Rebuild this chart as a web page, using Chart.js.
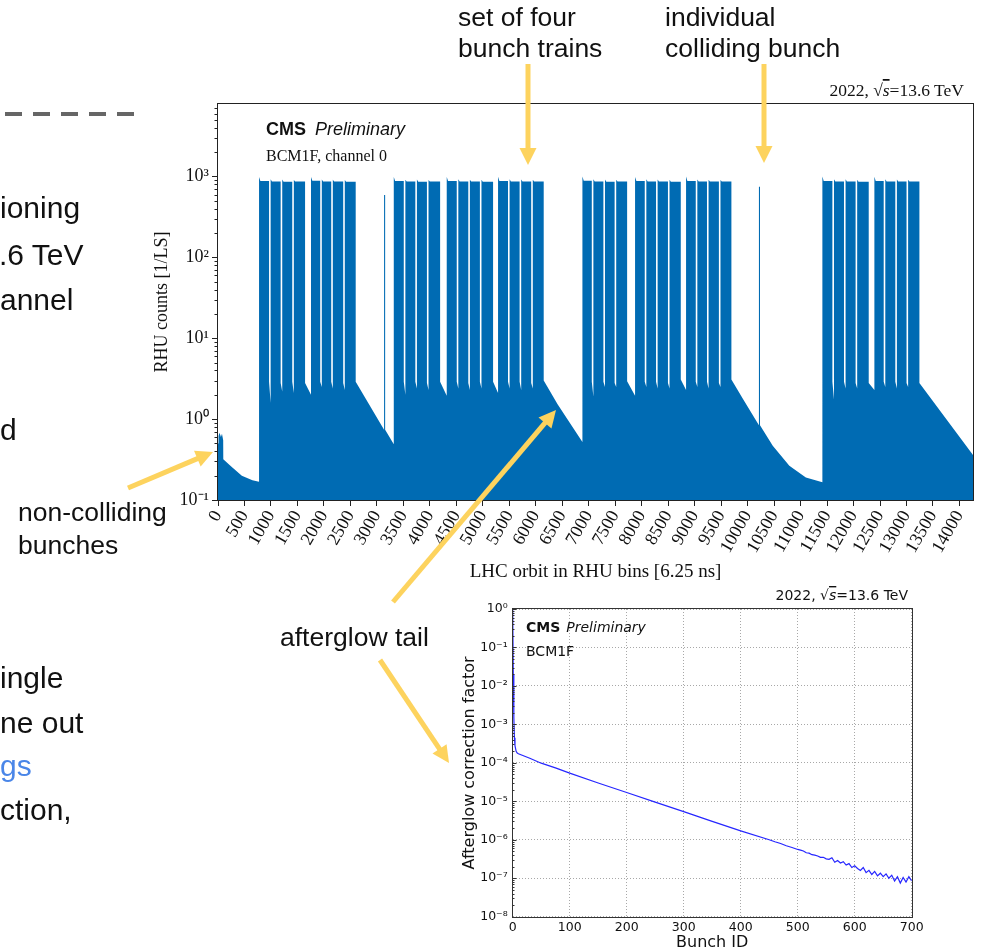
<!DOCTYPE html>
<html>
<head>
<meta charset="utf-8">
<script src="https://cdn.jsdelivr.net/npm/chart.js@4.4.1/dist/chart.umd.min.js"></script>
<style>
  html, body { margin: 0; padding: 0; background: #fff; }
  #page { position: relative; width: 986px; height: 951px; overflow: hidden; }
  canvas { position: absolute; }
  #overlay { position: absolute; left: 0; top: 0; pointer-events: none; }
  .sans { font-family: "Liberation Sans", Arial, sans-serif; fill: #111; }
  .serif { font-family: "Liberation Serif", "DejaVu Serif", serif; fill: #111; }
  .dv { font-family: "DejaVu Sans", sans-serif; fill: #111; }
</style>
</head>
<body>
<div id="page">
  <canvas id="rhuChart" width="846" height="530" style="left:140px;top:70px"></canvas>
  <canvas id="afterglowChart" width="490" height="371" style="left:440px;top:580px"></canvas>
  <svg id="overlay" width="986" height="951"></svg>
</div>
<script>
// ---- top plot: RHU histogram per orbit bin (envelope) ----
const trainStarts = [775, 994, 1213, 1432, 1756, 1960, 2168, 2394,
  3319, 3538, 3756, 3975, 4319, 4538, 4756, 4975, 5288, 5506, 5725, 5944,
  6881, 7088, 7307, 7519, 7875, 8088, 8301, 8526, 8838, 9051, 9263, 9488,
  11412, 11631, 11850, 12069, 12394, 12600, 12819, 13031];
const trainEnds = [964, 1183, 1402, 1644, 1930, 2138, 2364, 2600,
  3508, 3726, 3945, 4194, 4508, 4726, 4945, 5194, 5476, 5695, 5914, 6150,
  7058, 7277, 7489, 7725, 8058, 8271, 8496, 8738, 9021, 9233, 9458, 9694,
  11601, 11820, 12039, 12287, 12570, 12789, 13001, 13244];
const trainPeak = [990, 930, 920, 910, 985, 920, 915, 910, 990, 915, 920, 910,
  985, 925, 915, 915, 995, 930, 920, 915, 1000, 925, 920, 915, 990, 925, 920, 915,
  1005, 920, 915, 910, 1000, 930, 925, 915, 995, 925, 920, 915];
const trainTail = [880, 870, 865, 870, 885, 870, 870, 865, 880, 870, 865, 870,
  880, 870, 870, 865, 880, 870, 870, 870, 885, 870, 865, 870, 880, 870, 870, 865,
  880, 870, 870, 870, 880, 870, 870, 865, 880, 870, 870, 870];
const levelBefore = [0.168, 1.6, 2.2, 2.1, 2.0, 2.5, 2.4, 2.3, 0.49, 2.0, 2.4, 2.3,
  1.95, 2.4, 2.3, 2.4, 2.1, 2.4, 2.3, 2.4, 0.52, 1.9, 2.5, 2.5, 1.95, 2.5, 2.4, 2.4,
  2.3, 2.5, 2.4, 2.5, 0.166, 1.75, 2.4, 2.4, 2.3, 2.5, 2.4, 2.5];
const levelAfter = [2.9, 2.8, 2.9, 2.8, 2.9, 2.9, 2.8, 2.9, 2.9, 2.9, 2.8, 2.9,
  2.9, 2.8, 2.9, 2.9, 2.9, 2.9, 2.8, 3.0, 2.9, 2.9, 2.8, 2.95, 2.9, 2.9, 2.8, 3.1,
  2.9, 2.9, 2.8, 3.1, 2.9, 2.9, 2.8, 2.8, 2.9, 2.9, 2.8, 2.8];
// afterglow / non-colliding points outside the trains
const glowBins = [0, 10, 30, 55, 75, 98, 100, 250, 450, 650, 6412, 9913, 10475, 10788, 11100, 14256];
const glowCounts = [0.5, 0.62, 0.68, 0.6, 0.66, 0.55, 0.32, 0.26, 0.2, 0.175, 1.53, 1.77, 0.47, 0.265, 0.19, 0.36];
// isolated colliding bunches
const singleBins = [3136, 10214];
const singleWidth = [20, 20];
const singlePeak = [590, 750];
const singleBase = [0.74, 0.84];

const orbitTicks = [0, 500, 1000, 1500, 2000, 2500, 3000, 3500, 4000, 4500, 5000,
  5500, 6000, 6500, 7000, 7500, 8000, 8500, 9000, 9500, 10000, 10500, 11000,
  11500, 12000, 12500, 13000, 13500, 14000];
const yMajors = [0.1, 1, 10, 100, 1000];
const yMajorLabels = ['10\u207B\u00B9', '10\u2070', '10\u00B9', '10\u00B2', '10\u00B3'];

// ---- bottom plot: afterglow correction factor per bunch ----
const bunchIds = [0, 1, 2, 3, 4, 6, 8, 10, 30, 50, 75, 100, 150, 200, 250, 300, 350, 400,
  450, 460, 470, 480, 490, 500, 505, 510, 515, 520, 525, 530, 535, 540, 545, 550,
  555, 560, 565, 570, 575, 580, 585, 590, 595, 600, 605, 610, 615, 620, 625, 630,
  635, 640, 645, 650, 655, 660, 665, 670, 675, 680, 685, 690, 695, 700];
const afterglowFactor = [1.0, 0.02, 1.5e-3, 4.5e-4, 2.8e-4, 2.0e-4, 1.8e-4, 1.72e-4,
  1.32e-4, 9.8e-5, 7.4e-5, 5.4e-5, 3.0e-5, 1.7e-5, 9.5e-6, 5.4e-6, 3.0e-6, 1.7e-6,
  1.0e-6, 8.9e-7, 8.0e-7, 7.0e-7, 6.3e-7, 5.6e-7, 5.4e-7, 5.1e-7, 4.6e-7, 4.5e-7,
  4.1e-7, 4.0e-7, 3.8e-7, 3.5e-7, 3.5e-7, 3.2e-7, 3.1e-7, 3.4e-7, 2.6e-7, 2.9e-7,
  2.5e-7, 2.7e-7, 2.2e-7, 2.4e-7, 1.9e-7, 2.1e-7, 1.8e-7, 1.6e-7, 1.9e-7, 1.4e-7,
  1.6e-7, 1.25e-7, 1.5e-7, 1.15e-7, 1.35e-7, 1.1e-7, 1.3e-7, 1.0e-7, 1.2e-7, 8.5e-8,
  1.1e-7, 7.5e-8, 1.05e-7, 8.0e-8, 1.1e-7, 8.5e-8];
const bunchTicks = [0, 100, 200, 300, 400, 500, 600, 700];
const agYMajors = [1e-8, 1e-7, 1e-6, 1e-5, 1e-4, 1e-3, 1e-2, 1e-1, 1];
const agYLabels = ['10\u207B\u2078', '10\u207B\u2077', '10\u207B\u2076', '10\u207B\u2075',
  '10\u207B\u2074', '10\u207B\u00B3', '10\u207B\u00B2', '10\u207B\u00B9', '10\u2070'];

// build the envelope polygon for the histogram
const rhuPoints = [];
glowBins.forEach((b, i) => rhuPoints.push({ x: b, y: glowCounts[i] }));
trainStarts.forEach((s, i) => {
  rhuPoints.push({ x: s, y: levelBefore[i] }, { x: s, y: trainPeak[i] },
    { x: s + 25, y: trainTail[i] });
  rhuPoints.push({ x: trainEnds[i], y: trainTail[i] }, { x: trainEnds[i], y: levelAfter[i] });
});
singleBins.forEach((b, i) => {
  rhuPoints.push({ x: b, y: singleBase[i] }, { x: b, y: singlePeak[i] },
    { x: b + singleWidth[i], y: singlePeak[i] }, { x: b + singleWidth[i], y: singleBase[i] });
});
rhuPoints.sort((a, b) => a.x - b.x);

const agPoints = bunchIds.map((b, i) => ({ x: b, y: afterglowFactor[i] }));

// box round the plot area + minor ticks on the log axis (dir 1 = outward, -1 = inward)
const frameBox = {
  id: 'frameBox',
  afterDraw(chart, args, opts) {
    const { ctx, chartArea: a } = chart;
    ctx.save();
    ctx.strokeStyle = opts.color || '#000';
    ctx.lineWidth = 1;
    ctx.strokeRect(Math.round(a.left) - 0.5, Math.round(a.top) - 0.5,
      Math.round(a.right - a.left) + 1, Math.round(a.bottom - a.top) + 1);
    const ys = chart.scales.y;
    const x0 = Math.round(a.left) - 0.5;
    ctx.beginPath();
    if (opts.minorDecades) {
      opts.minorDecades.forEach(d => {
        for (let k = 2; k <= 9; k++) {
          const v = d * k;
          if (v > ys.max) return;
          const py = Math.round(ys.getPixelForValue(v)) + 0.5;
          ctx.moveTo(x0 - opts.minorLen * opts.dir, py);
          ctx.lineTo(x0, py);
        }
      });
    }
    if (opts.majorIn) {
      ys.ticks.forEach(t => {
        const py = Math.round(ys.getPixelForValue(t.value)) + 0.5;
        ctx.moveTo(x0, py);
        ctx.lineTo(x0 + opts.majorIn, py);
      });
    }
    ctx.stroke();
    ctx.restore();
  }
};

const serif = 'Liberation Serif';

new Chart(document.getElementById('rhuChart'), {
  type: 'line',
  data: {
    datasets: [{
      data: rhuPoints,
      fill: 'start',
      backgroundColor: '#006bb3',
      borderColor: 'rgba(0,0,0,0)',
      borderWidth: 0,
      pointRadius: 0,
      tension: 0
    }]
  },
  options: {
    responsive: false,
    animation: false,
    events: [],
    layout: { padding: { top: 34, right: 13, left: 0, bottom: 0 } },
    plugins: {
      legend: { display: false },
      tooltip: { enabled: false },
      frameBox: { color: '#222', minorDecades: [0.1, 1, 10, 100, 1000], minorLen: 3, dir: 1 }
    },
    scales: {
      x: {
        type: 'linear', min: 0, max: 14256,
        afterFit: s => { s.height = 100; },
        afterBuildTicks: s => { s.ticks = orbitTicks.map(v => ({ value: v })); },
        ticks: {
          autoSkip: false, minRotation: 60, maxRotation: 60, padding: 1, color: '#111',
          font: { family: serif, size: 18 },
          callback: (v, i) => String(orbitTicks[i])
        },
        grid: { drawOnChartArea: false, tickLength: 6, tickColor: '#222' },
        border: { display: false },
        title: {
          display: true, text: 'LHC orbit in RHU bins [6.25 ns]', color: '#111',
          font: { family: serif, size: 19 }, padding: { bottom: 16.6, top: 0 }
        }
      },
      y: {
        type: 'logarithmic', min: 0.1, max: 7900,
        afterFit: s => { s.width = 78; },
        afterBuildTicks: s => { s.ticks = yMajors.map(v => ({ value: v })); },
        ticks: {
          autoSkip: false, padding: 3, color: '#111',
          font: { family: serif, size: 18 },
          callback: (v, i) => yMajorLabels[i]
        },
        grid: { drawOnChartArea: false, tickLength: 6, tickColor: '#222' },
        border: { display: false },
        title: {
          display: true, text: 'RHU counts [1/LS]', color: '#111',
          font: { family: serif, size: 18 }, padding: { top: 11, bottom: 0 }
        }
      }
    }
  },
  plugins: [frameBox]
});

const dv = 'DejaVu Sans';

new Chart(document.getElementById('afterglowChart'), {
  type: 'line',
  data: {
    datasets: [{
      data: agPoints,
      borderColor: '#2626ff',
      borderWidth: 1.2,
      pointRadius: 0,
      fill: false,
      tension: 0
    }]
  },
  options: {
    responsive: false,
    animation: false,
    events: [],
    layout: { padding: { top: 29, right: 18.3, left: 0, bottom: 0 } },
    plugins: {
      legend: { display: false },
      tooltip: { enabled: false },
      frameBox: { color: '#333', minorDecades: agYMajors.slice(0, 8), minorLen: 2, dir: -1, majorIn: 4 }
    },
    scales: {
      x: {
        type: 'linear', min: 0, max: 700,
        afterFit: s => { s.height = 34.3; },
        afterBuildTicks: s => { s.ticks = bunchTicks.map(v => ({ value: v })); },
        ticks: {
          autoSkip: false, maxRotation: 0, padding: 4, color: '#111',
          font: { family: dv, size: 12.5 },
          callback: (v, i) => String(bunchTicks[i])
        },
        grid: { color: '#a8a8a8', lineWidth: 1, drawTicks: false },
        border: { display: false, dash: [1, 2] },
        title: {
          display: true, text: 'Bunch ID', color: '#111',
          font: { family: dv, size: 16, lineHeight: 1 }, padding: { top: 0, bottom: 0 }
        }
      },
      y: {
        type: 'logarithmic', min: 1e-8, max: 1,
        afterFit: s => { s.width = 72.7; },
        afterBuildTicks: s => { s.ticks = agYMajors.map(v => ({ value: v })); },
        ticks: {
          autoSkip: false, padding: 5, color: '#111',
          font: { family: dv, size: 12.5 },
          callback: (v, i) => agYLabels[i]
        },
        grid: { color: '#a8a8a8', lineWidth: 1, drawTicks: false },
        border: { display: false, dash: [1, 2] },
        title: {
          display: true, text: 'Afterglow correction factor', color: '#111',
          font: { family: dv, size: 16 }, padding: { top: 20.4, bottom: 0 }
        }
      }
    }
  },
  plugins: [frameBox]
});

// ---- slide text, plot labels and yellow arrows ----
const svg = document.getElementById('overlay');
const NS = 'http://www.w3.org/2000/svg';
function txt(x, y, cls, size, html, extra) {
  const t = document.createElementNS(NS, 'text');
  t.setAttribute('x', x); t.setAttribute('y', y);
  t.setAttribute('class', cls);
  t.setAttribute('font-size', size);
  if (extra) Object.keys(extra).forEach(k => t.setAttribute(k, extra[k]));
  t.innerHTML = html;
  svg.appendChild(t);
}
function arrow(x1, y1, x2, y2) {
  const len = Math.hypot(x2 - x1, y2 - y1), ux = (x2 - x1) / len, uy = (y2 - y1) / len;
  const hl = 17, hw = 8.5, bx = x2 - ux * hl, by = y2 - uy * hl;
  const l = document.createElementNS(NS, 'line');
  l.setAttribute('x1', x1); l.setAttribute('y1', y1);
  l.setAttribute('x2', bx + ux * 2); l.setAttribute('y2', by + uy * 2);
  l.setAttribute('stroke', '#fdd35e'); l.setAttribute('stroke-width', 5);
  svg.appendChild(l);
  const p = document.createElementNS(NS, 'polygon');
  p.setAttribute('points', `${x2},${y2} ${bx - uy * hw},${by + ux * hw} ${bx + uy * hw},${by - ux * hw}`);
  p.setAttribute('fill', '#fdd35e');
  svg.appendChild(p);
}

// dashed rule at top left
const dash = document.createElementNS(NS, 'line');
dash.setAttribute('x1', 5); dash.setAttribute('y1', 114);
dash.setAttribute('x2', 134); dash.setAttribute('y2', 114);
dash.setAttribute('stroke', '#666'); dash.setAttribute('stroke-width', 4);
dash.setAttribute('stroke-dasharray', '17 11');
svg.appendChild(dash);

// cut-off slide body text
txt(0, 218, 'sans', 30, 'ioning');
txt(-1, 265, 'sans', 30, '.6 TeV');
txt(0, 310, 'sans', 30, 'annel');
txt(0, 440, 'sans', 30, 'd');
txt(0, 688, 'sans', 30, 'ingle');
txt(0, 733, 'sans', 30, 'ne out');
txt(0, 776, 'sans', 30, 'gs', { style: 'fill:#4a86e8' });
txt(0, 820, 'sans', 30, 'ction,');

// annotations
txt(458, 26, 'sans', 26.5, 'set of four');
txt(458, 57, 'sans', 26.5, 'bunch trains');
txt(665, 26, 'sans', 26.5, 'individual');
txt(665, 57, 'sans', 26.5, 'colliding bunch');
txt(18, 521, 'sans', 26.5, 'non-colliding');
txt(18, 554, 'sans', 26.5, 'bunches');
txt(280, 646, 'sans', 26.5, 'afterglow tail');

// labels inside the top plot
txt(266, 135, 'sans', 18, '<tspan font-weight="bold">CMS</tspan><tspan dx="9" font-style="italic">Preliminary</tspan>');
txt(266, 161, 'serif', 16, 'BCM1F, channel 0');
txt(964, 96, 'serif', 17.5, '2022, \u221A<tspan font-style="italic" style="text-decoration:overline">s</tspan>=13.6 TeV', { 'text-anchor': 'end' });

// labels inside the bottom plot
txt(526, 632, 'dv', 14, '<tspan font-weight="bold">CMS</tspan><tspan dx="6" font-style="italic">Preliminary</tspan>');
txt(526, 656, 'dv', 14, 'BCM1F');
txt(908, 600, 'dv', 14, '2022, \u221A<tspan font-style="italic" style="text-decoration:overline">s</tspan>=13.6 TeV', { 'text-anchor': 'end' });

arrow(528, 64, 528, 165);
arrow(764, 64, 764, 163);
arrow(128, 488, 213, 452);
arrow(393, 602, 556, 410);
arrow(380, 660, 449, 763);
</script>
</body>
</html>
